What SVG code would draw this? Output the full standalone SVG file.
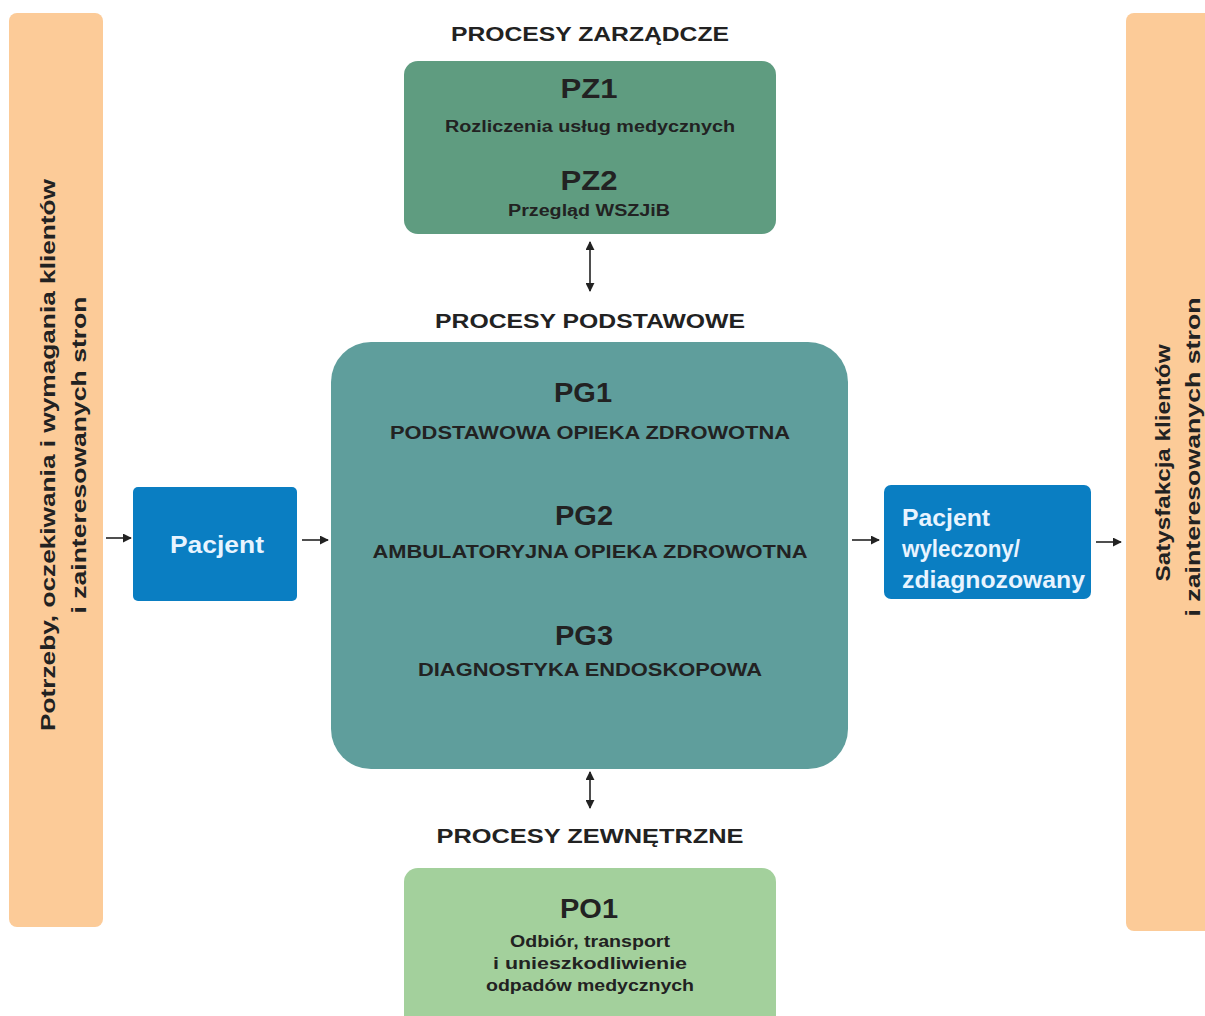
<svg xmlns="http://www.w3.org/2000/svg" width="1205" height="1016" viewBox="0 0 1205 1016">
<defs>
<marker id="ah" viewBox="0 0 10 10" refX="9" refY="5" markerWidth="9" markerHeight="9" markerUnits="userSpaceOnUse" orient="auto-start-reverse">
<path d="M0,0 L10,5 L0,10 z" fill="#222"/>
</marker>
<style>
text{font-family:"Liberation Sans",Arial,sans-serif;font-weight:bold;fill:#222;text-anchor:middle}
.h{font-size:21px}
.code{font-size:27px}
.sub{font-size:16px}
.pg{font-size:18px}
.w{fill:#e8f4ff;font-size:23px}
.v{font-size:21px}
.conn{stroke:#222;stroke-width:1.6;fill:none;marker-end:url(#ah)}
.dbl{marker-start:url(#ah)}
</style>
</defs>
<rect width="1205" height="1016" fill="#fff"/>

<g id="left-bar">
<rect x="9" y="13" width="94" height="914" rx="8" fill="#fccb98"/>
<text class="v" transform="translate(55,455) rotate(-90)" textLength="552" lengthAdjust="spacingAndGlyphs">Potrzeby, oczekiwania i wymagania klientów</text>
<text class="v" transform="translate(86,455) rotate(-90)" textLength="317" lengthAdjust="spacingAndGlyphs">i zainteresowanych stron</text>
</g>

<g id="right-bar">
<rect x="1126" y="13" width="100" height="918" rx="8" fill="#fccb98"/>
<text class="v" transform="translate(1170,463) rotate(-90)" textLength="237" lengthAdjust="spacingAndGlyphs">Satysfakcja klientów</text>
<text class="v" transform="translate(1200,457) rotate(-90)" textLength="319" lengthAdjust="spacingAndGlyphs">i zainteresowanych stron</text>
</g>

<g id="pz">
<text class="h" x="590" y="41" textLength="278" lengthAdjust="spacingAndGlyphs">PROCESY ZARZĄDCZE</text>
<rect x="404" y="61" width="372" height="173" rx="14" fill="#5f9c80"/>
<text class="code" x="589" y="98" textLength="57" lengthAdjust="spacingAndGlyphs">PZ1</text>
<text class="sub" x="590" y="132" textLength="290" lengthAdjust="spacingAndGlyphs">Rozliczenia usług medycznych</text>
<text class="code" x="589" y="190" textLength="57" lengthAdjust="spacingAndGlyphs">PZ2</text>
<text class="sub" x="589" y="216" textLength="162" lengthAdjust="spacingAndGlyphs">Przegląd WSZJiB</text>
</g>

<g id="pg">
<text class="h" x="590" y="328" textLength="310" lengthAdjust="spacingAndGlyphs">PROCESY PODSTAWOWE</text>
<rect x="331" y="342" width="517" height="427" rx="40" fill="#5f9e9c"/>
<text class="code" x="583" y="402" textLength="58" lengthAdjust="spacingAndGlyphs">PG1</text>
<text class="pg" x="590" y="439" textLength="400" lengthAdjust="spacingAndGlyphs">PODSTAWOWA OPIEKA ZDROWOTNA</text>
<text class="code" x="584" y="525" textLength="58" lengthAdjust="spacingAndGlyphs">PG2</text>
<text class="pg" x="590" y="558" textLength="435" lengthAdjust="spacingAndGlyphs">AMBULATORYJNA OPIEKA ZDROWOTNA</text>
<text class="code" x="584" y="645" textLength="58" lengthAdjust="spacingAndGlyphs">PG3</text>
<text class="pg" x="590" y="676" textLength="344" lengthAdjust="spacingAndGlyphs">DIAGNOSTYKA ENDOSKOPOWA</text>
</g>

<g id="po">
<text class="h" x="590" y="843" textLength="307" lengthAdjust="spacingAndGlyphs">PROCESY ZEWNĘTRZNE</text>
<rect x="404" y="868" width="372" height="170" rx="14" fill="#a3d09c"/>
<text class="code" x="589" y="918" textLength="58" lengthAdjust="spacingAndGlyphs">PO1</text>
<text class="sub" x="590" y="947" textLength="160" lengthAdjust="spacingAndGlyphs">Odbiór, transport</text>
<text class="sub" x="590" y="969" textLength="194" lengthAdjust="spacingAndGlyphs">i unieszkodliwienie</text>
<text class="sub" x="590" y="991" textLength="208" lengthAdjust="spacingAndGlyphs">odpadów medycznych</text>
</g>

<g id="pacjent-in">
<rect x="133" y="487" width="164" height="114" rx="5" fill="#0a7ec2"/>
<text class="w" x="217" y="553" textLength="94" lengthAdjust="spacingAndGlyphs">Pacjent</text>
</g>

<g id="pacjent-out">
<rect x="884" y="485" width="207" height="114" rx="7" fill="#0a7ec2"/>
<text class="w" x="902" y="526" style="text-anchor:start" textLength="88" lengthAdjust="spacingAndGlyphs">Pacjent</text>
<text class="w" x="902" y="557" style="text-anchor:start" textLength="118" lengthAdjust="spacingAndGlyphs">wyleczony/</text>
<text class="w" x="902" y="588" style="text-anchor:start" textLength="183" lengthAdjust="spacingAndGlyphs">zdiagnozowany</text>
</g>

<g id="connectors">
<line class="conn" x1="106" y1="538" x2="131" y2="538"/>
<line class="conn" x1="302" y1="540" x2="328" y2="540"/>
<line class="conn" x1="852" y1="540" x2="879" y2="540"/>
<line class="conn" x1="1096" y1="542" x2="1121" y2="542"/>
<line class="conn dbl" x1="590" y1="242" x2="590" y2="291"/>
<line class="conn dbl" x1="590" y1="772" x2="590" y2="808"/>
</g>
</svg>
